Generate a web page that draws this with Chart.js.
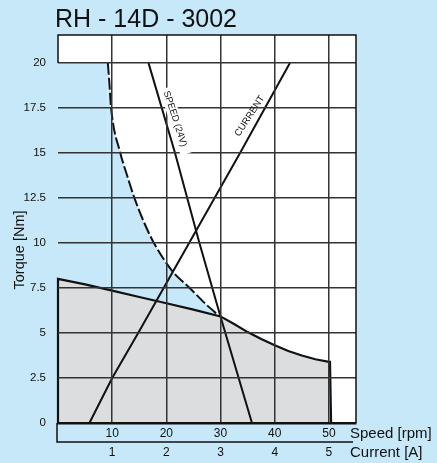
<!DOCTYPE html>
<html>
<head>
<meta charset="utf-8">
<title>RH - 14D - 3002</title>
<script src="https://cdn.jsdelivr.net/npm/chart.js@4.4.1/dist/chart.umd.min.js"></script>
<style>
  html, body { margin: 0; padding: 0; background: #c6e8f8; }
  canvas { display: block; }
</style>
</head>
<body>
<canvas id="chart" width="437" height="463"></canvas>
<script>
// values
const torqueTicks = [0, 2.5, 5, 7.5, 10, 12.5, 15, 17.5, 20];
const torqueTickLabels = ["0", "2.5", "5", "7.5", "10", "12.5", "15", "17.5", "20"];
const speedTicks = [10, 20, 30, 40, 50];
const currentTicks = [1, 2, 3, 4, 5];

// max torque (dashed) curve, speed [rpm] / torque [Nm]
const maxSpeed = [9.2, 9.5, 9.8, 11.5, 12.7, 14.1, 15.8, 17.7, 21.2, 24.3, 27.3, 29.9];
const maxTorque = [20, 18.8, 17.5, 15, 13.8, 12.5, 11.2, 10, 8.4, 7.5, 6.6, 5.9];

// continuous duty area (grey)
const contSpeed = [0, 0, 5, 10, 15, 20, 25, 30, 32.5, 35, 37.5, 40, 42.5, 45, 47.5, 50, 50.2, 50.4];
const contTorque = [0, 8.0, 7.7, 7.35, 7.0, 6.65, 6.3, 5.92, 5.5, 5.05, 4.66, 4.32, 4.0, 3.75, 3.54, 3.4, 3.4, 0];

// speed (24V) line, speed [rpm] / torque
const speedLineSpeed = [16.7, 21.6, 26.1, 30, 35.8];
const speedLineTorque = [20, 15, 10, 5.9, 0];

// current line, current [A] / torque
const currentLineAmp = [0.58, 1.0, 1.48, 1.95, 2.42, 3.36, 4.28];
const currentLineTorque = [0, 2.5, 5, 7.5, 10, 15, 20];

const BLUE = "#c6e8f8";
const GREY = "#dcdddf";
const INK = "#111111";
const GRID = "#333333";
const FONT = '"Liberation Sans", Arial, Helvetica, sans-serif';

const toPoints = (xs, ys) => xs.map((x, i) => ({ x: x, y: ys[i] }));

Chart.defaults.font.family = FONT;
Chart.defaults.color = INK;

function rotatedLabel(ctx, text, x, y, angle, withBg) {
  ctx.save();
  ctx.translate(x, y);
  ctx.rotate((angle * Math.PI) / 180);
  ctx.font = "9.5px " + FONT;
  const w = ctx.measureText(text).width;
  if (withBg) {
    ctx.fillStyle = "#ffffff";
    ctx.fillRect(-w / 2 - 3, -6, w + 11, 12);
  }
  ctx.fillStyle = INK;
  ctx.textAlign = "center";
  ctx.textBaseline = "middle";
  ctx.fillText(text, 0, 0);
  ctx.restore();
}

const decor = {
  id: "decor",
  beforeDraw(chart) {
    const { ctx, chartArea: a } = chart;
    ctx.save();
    ctx.fillStyle = "#ffffff";
    ctx.fillRect(a.left, a.top, a.right - a.left, a.bottom - a.top);
    ctx.restore();
  },
  afterDraw(chart) {
    const { ctx, chartArea: a, scales } = chart;
    const y20 = scales.y.getPixelForValue(20);
    ctx.save();
    ctx.strokeStyle = INK;
    ctx.lineWidth = 1.5;
    ctx.beginPath();
    ctx.moveTo(a.left, y20);
    ctx.lineTo(a.left, a.top);
    ctx.lineTo(a.right, a.top);
    ctx.lineTo(a.right, a.bottom);
    ctx.moveTo(a.left - 1, a.bottom);
    ctx.lineTo(a.left - 1, a.bottom + 19);
    ctx.lineTo(a.right - 3, a.bottom + 19);
    ctx.stroke();

    // labels on the lines
    rotatedLabel(ctx, "SPEED (24V)",
      scales.x.getPixelForValue(21.6), scales.y.getPixelForValue(16.9), 72, true);
    rotatedLabel(ctx, "CURRENT",
      scales.x.getPixelForValue(35.4), scales.y.getPixelForValue(17.05), -57, false);

    // title
    ctx.fillStyle = INK;
    ctx.font = "25px " + FONT;
    ctx.textAlign = "left";
    ctx.textBaseline = "alphabetic";
    ctx.fillText("RH - 14D - 3002", 55, 27);

    // axis names
    ctx.font = "15px " + FONT;
    ctx.textBaseline = "middle";
    ctx.fillText("Speed [rpm]", 350, a.bottom + 11);
    ctx.fillText("Current [A]", 350, a.bottom + 30);

    ctx.translate(19.5, 250);
    ctx.rotate(-Math.PI / 2);
    ctx.font = "14.5px " + FONT;
    ctx.textAlign = "center";
    ctx.fillText("Torque [Nm]", 0, 0);
    ctx.restore();
  },
};

const ctx = document.getElementById("chart").getContext("2d");

new Chart(ctx, {
  type: "line",
  data: {
    datasets: [
      {
        // current line
        data: toPoints(currentLineAmp, currentLineTorque),
        xAxisID: "x2",
        borderColor: INK,
        borderWidth: 2,
        pointRadius: 0,
        fill: false,
        order: 1,
      },
      {
        // speed (24V) line
        data: toPoints(speedLineSpeed, speedLineTorque),
        xAxisID: "x",
        borderColor: INK,
        borderWidth: 2,
        pointRadius: 0,
        fill: false,
        order: 2,
      },
      {
        // continuous torque, grey
        data: toPoints(contSpeed, contTorque),
        xAxisID: "x",
        borderColor: INK,
        borderWidth: 2.2,
        backgroundColor: GREY,
        pointRadius: 0,
        fill: "origin",
        clip: 4,
        order: 3,
      },
      {
        // max torque, dashed
        data: toPoints(maxSpeed, maxTorque),
        xAxisID: "x",
        borderColor: INK,
        borderWidth: 2,
        borderDash: [12, 3],
        backgroundColor: BLUE,
        cubicInterpolationMode: "monotone",
        pointRadius: 0,
        fill: "origin",
        order: 4,
      },
      {
        // blue block left of the dashed curve
        data: [{ x: 0, y: maxTorque[0] }, { x: maxSpeed[0], y: maxTorque[0] }],
        xAxisID: "x",
        borderWidth: 0,
        borderColor: "rgba(0,0,0,0)",
        backgroundColor: BLUE,
        pointRadius: 0,
        fill: "origin",
        order: 5,
      },
    ],
  },
  options: {
    responsive: false,
    devicePixelRatio: 1,
    animation: false,
    layout: { padding: { top: 35, right: 81, bottom: 0, left: 0 } },
    plugins: {
      legend: { display: false },
      tooltip: { enabled: false },
      title: { display: false },
    },
    scales: {
      x: {
        type: "linear",
        position: "bottom",
        min: 0,
        max: 55,
        weight: 0,
        afterBuildTicks: (s) => {
          s.ticks = speedTicks.map((v) => ({ value: v }));
        },
        afterFit: (s) => {
          s.height = 19;
        },
        ticks: {
          padding: 3,
          maxRotation: 0,
          autoSkip: false,
          color: INK,
          font: { size: 12 },
          callback: (v) => String(v),
        },
        grid: { color: GRID, lineWidth: 1.5, drawTicks: false, z: 1 },
        border: { display: true, color: INK, width: 2.5, z: 2 },
      },
      x2: {
        type: "linear",
        position: "bottom",
        min: 0,
        max: 5.5,
        weight: 1,
        afterBuildTicks: (s) => {
          s.ticks = currentTicks.map((v) => ({ value: v }));
        },
        afterFit: (s) => {
          s.height = 21;
        },
        ticks: {
          padding: 3,
          maxRotation: 0,
          autoSkip: false,
          color: INK,
          font: { size: 12 },
          callback: (v) => String(v),
        },
        grid: { display: false, drawTicks: false },
        border: { display: false },
      },
      y: {
        type: "linear",
        position: "left",
        min: 0,
        max: 21.55,
        afterBuildTicks: (s) => {
          s.ticks = torqueTicks.map((v) => ({ value: v }));
        },
        afterFit: (s) => {
          s.width = 58;
        },
        ticks: {
          padding: 12,
          color: INK,
          font: { size: 11.5 },
          callback: (v, i) => torqueTickLabels[i],
        },
        grid: { color: GRID, lineWidth: 1.5, drawTicks: false, z: 1 },
        border: { display: false },
      },
    },
  },
  plugins: [decor],
});
</script>
</body>
</html>
